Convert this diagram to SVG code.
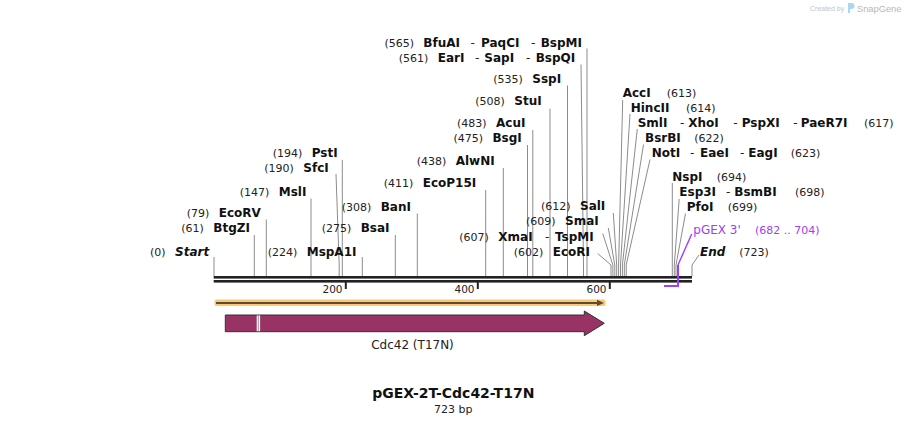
<svg xmlns="http://www.w3.org/2000/svg" width="907" height="426" viewBox="0 0 907 426">
<style>
.num{font-family:"DejaVu Sans",Verdana,sans-serif;font-size:11px;fill:#222}
.nm{font-family:"DejaVu Sans",Verdana,sans-serif;font-size:12px;font-weight:bold;fill:#111}
.hy{font-family:"DejaVu Sans",Verdana,sans-serif;font-size:12px;fill:#222}
.it{font-style:italic}
.ln{fill:none;stroke:#8c8c8c;stroke-width:1}
.tick{font-family:"DejaVu Sans",Verdana,sans-serif;font-size:10.5px;fill:#222}
.pr{fill:#a040f0;font-family:"DejaVu Sans",Verdana,sans-serif}
</style>
<rect width="907" height="426" fill="#fff"/>

<!-- watermark -->
<g id="watermark">
<text x="810" y="11" font-family="Liberation Sans,Arial,sans-serif" font-size="7px" fill="#c4c4c4">Created by</text>
<path d="M848,3 h3.5 a3,3 0 0 1 0,6 h-1.5 v4 h-2 z" fill="#a9d6f0"/>
<text x="857" y="11.5" font-family="Liberation Sans,Arial,sans-serif" font-size="9.3px" fill="#b8b8b8">SnapGene</text>
</g>

<!-- connectors -->
<g id="connectors">
<path class="ln" d="M214,257V276"/>
<path class="ln" d="M254.3,235V276"/>
<path class="ln" d="M266.3,219.5V276"/>
<path class="ln" d="M311,198.5V276"/>
<path class="ln" d="M336,174L339.2,265V276"/>
<path class="ln" d="M342.3,160V276"/>
<path class="ln" d="M362.3,257V276"/>
<path class="ln" d="M395.3,235V276"/>
<path class="ln" d="M417.3,213.5V276"/>
<path class="ln" d="M485.7,190V276"/>
<path class="ln" d="M503.3,168V276"/>
<path class="ln" d="M527.5,145V276"/>
<path class="ln" d="M532.8,130V276"/>
<path class="ln" d="M550,108.5V276"/>
<path class="ln" d="M567.5,85.5V276"/>
<path class="ln" d="M581,64.5L583.5,265V276"/>
<path class="ln" d="M587,48.5V276"/>
<path class="ln" d="M597.7,253.5L611,265V276"/>
<path class="ln" d="M602.7,233.5L612.9,265V276"/>
<path class="ln" d="M608.3,228L614.8,265V276"/>
<path class="ln" d="M613.3,213L616.7,265V276"/>
<path class="ln" d="M622.7,100L618.6,265V276"/>
<path class="ln" d="M630,114L620.5,265V276"/>
<path class="ln" d="M637.3,129L622.4,265V276"/>
<path class="ln" d="M643.5,144.5L624.3,265V276"/>
<path class="ln" d="M650,159.5L626.2,265V276"/>
<path class="ln" d="M672.3,183V276"/>
<path class="ln" d="M679.2,199L674.3,265V276"/>
<path class="ln" d="M685.5,213.5L676,265V276"/>
<path class="ln" d="M699,255L692,265V276"/>
</g>

<!-- backbone -->
<g id="backbone">
<rect x="213.7" y="276" width="478.3" height="2.6" fill="#222"/>
<rect x="213.7" y="280" width="478.3" height="2.6" fill="#222"/>
<rect x="344.8" y="282" width="2" height="7" fill="#222"/>
<rect x="476.8" y="282" width="2" height="7" fill="#222"/>
<rect x="608.8" y="282" width="2" height="7" fill="#222"/>
<text class="tick" x="342.5" y="293" text-anchor="end">200</text>
<text class="tick" x="474.5" y="293" text-anchor="end">400</text>
<text class="tick" x="606.5" y="293" text-anchor="end">600</text>
</g>

<!-- primer -->
<g id="primer-pGEX3">
<path d="M691.7,234L678,265" fill="none" stroke="#a040f0" stroke-width="1.4"/>
<path d="M678,265V286H664" fill="none" stroke="#a040f0" stroke-width="2"/>
<text class="pr" x="693.3" y="234" font-size="12px">pGEX 3'</text>
<text class="pr" x="755" y="234" font-size="11px">(682 .. 704)</text>
</g>

<!-- left-side labels -->
<g id="site-BfuAI"><text class="num" x="414" y="47" text-anchor="end">(565)</text><text class="nm" x="423.3" y="47">BfuAI</text><text class="hy" x="470.5" y="47">-</text><text class="nm" x="481" y="47">PaqCI</text><text class="hy" x="531" y="47">-</text><text class="nm" x="540.7" y="47">BspMI</text></g>
<g id="site-EarI"><text class="num" x="428.3" y="62" text-anchor="end">(561)</text><text class="nm" x="437.7" y="62">EarI</text><text class="hy" x="475" y="62">-</text><text class="nm" x="484.3" y="62">SapI</text><text class="hy" x="526" y="62">-</text><text class="nm" x="535.7" y="62">BspQI</text></g>
<g id="site-SspI"><text class="num" x="522.9" y="83" text-anchor="end">(535)</text><text class="nm" x="532.3" y="83">SspI</text></g>
<g id="site-StuI"><text class="num" x="504.9" y="105" text-anchor="end">(508)</text><text class="nm" x="514.3" y="105">StuI</text></g>
<g id="site-AcuI"><text class="num" x="486.6" y="127" text-anchor="end">(483)</text><text class="nm" x="496" y="127">AcuI</text></g>
<g id="site-BsgI"><text class="num" x="483" y="142" text-anchor="end">(475)</text><text class="nm" x="492.4" y="142">BsgI</text></g>
<g id="site-AlwNI"><text class="num" x="446.3" y="165" text-anchor="end">(438)</text><text class="nm" x="455.7" y="165">AlwNI</text></g>
<g id="site-EcoP15I"><text class="num" x="413.3" y="187" text-anchor="end">(411)</text><text class="nm" x="422.7" y="187">EcoP15I</text></g>
<g id="site-BanI"><text class="num" x="371.3" y="211" text-anchor="end">(308)</text><text class="nm" x="380.7" y="211">BanI</text></g>
<g id="site-BsaI"><text class="num" x="351.3" y="232" text-anchor="end">(275)</text><text class="nm" x="360.7" y="232">BsaI</text></g>
<g id="site-MspA1I"><text class="num" x="297.3" y="255.7" text-anchor="end">(224)</text><text class="nm" x="306.7" y="255.7">MspA1I</text></g>
<g id="site-PstI"><text class="num" x="302.3" y="157.3" text-anchor="end">(194)</text><text class="nm" x="311.7" y="157.3">PstI</text></g>
<g id="site-SfcI"><text class="num" x="293.9" y="172.3" text-anchor="end">(190)</text><text class="nm" x="303.3" y="172.3">SfcI</text></g>
<g id="site-MslI"><text class="num" x="269.3" y="195.5" text-anchor="end">(147)</text><text class="nm" x="278.7" y="195.5">MslI</text></g>
<g id="site-EcoRV"><text class="num" x="209.3" y="216.7" text-anchor="end">(79)</text><text class="nm" x="218.7" y="216.7">EcoRV</text></g>
<g id="site-BtgZI"><text class="num" x="203.9" y="232.3" text-anchor="end">(61)</text><text class="nm" x="213.3" y="232.3">BtgZI</text></g>
<g id="site-Start"><text class="num" x="165.6" y="255.7" text-anchor="end">(0)</text><text class="nm it" x="175" y="255.7">Start</text></g>
<g id="site-SalI"><text class="num" x="570.6" y="210" text-anchor="end">(612)</text><text class="nm" x="580" y="210">SalI</text></g>
<g id="site-SmaI"><text class="num" x="555.6" y="225" text-anchor="end">(609)</text><text class="nm" x="565" y="225">SmaI</text></g>
<g id="site-XmaI"><text class="num" x="488.9" y="240.7" text-anchor="end">(607)</text><text class="nm" x="498.3" y="240.7">XmaI</text><text class="hy" x="545" y="240.7">-</text><text class="nm" x="555" y="240.7">TspMI</text></g>
<g id="site-EcoRI"><text class="num" x="543.3" y="255.7" text-anchor="end">(602)</text><text class="nm" x="552.7" y="255.7">EcoRI</text></g>

<!-- right-side labels -->
<g id="site-AccI"><text class="nm" x="622.7" y="97.3">AccI</text><text class="num" x="666.7" y="97.3">(613)</text></g>
<g id="site-HincII"><text class="nm" x="630.7" y="112.3">HincII</text><text class="num" x="686" y="112.3">(614)</text></g>
<g id="site-SmlI"><text class="nm" x="637.7" y="127.3">SmlI</text><text class="hy" x="680" y="127.3">-</text><text class="nm" x="688.3" y="127.3">XhoI</text><text class="hy" x="733.3" y="127.3">-</text><text class="nm" x="741.7" y="127.3">PspXI</text><text class="hy" x="793.3" y="127.3">-</text><text class="nm" x="800.7" y="127.3">PaeR7I</text><text class="num" x="864" y="127.3">(617)</text></g>
<g id="site-BsrBI"><text class="nm" x="645" y="142.3">BsrBI</text><text class="num" x="694.3" y="142.3">(622)</text></g>
<g id="site-NotI"><text class="nm" x="651.7" y="157.3">NotI</text><text class="hy" x="690" y="157.3">-</text><text class="nm" x="700" y="157.3">EaeI</text><text class="hy" x="740" y="157.3">-</text><text class="nm" x="748.3" y="157.3">EagI</text><text class="num" x="790.7" y="157.3">(623)</text></g>
<g id="site-NspI"><text class="nm" x="672.3" y="180.7">NspI</text><text class="num" x="716.7" y="180.7">(694)</text></g>
<g id="site-Esp3I"><text class="nm" x="679.3" y="196">Esp3I</text><text class="hy" x="726" y="196">-</text><text class="nm" x="734.3" y="196">BsmBI</text><text class="num" x="795" y="196">(698)</text></g>
<g id="site-PfoI"><text class="nm" x="686.7" y="210.7">PfoI</text><text class="num" x="727.7" y="210.7">(699)</text></g>
<g id="site-End"><text class="nm it" x="700" y="255.7">End</text><text class="num" x="739.3" y="255.7">(723)</text></g>

<!-- ORF arrow -->
<g id="orf">
<rect x="214.5" y="299.5" width="391" height="6.5" rx="2" fill="#fbc874"/>
<path d="M216,302.9H598" stroke="#5e4b36" stroke-width="2"/>
<path d="M597,299.8L604,302.9L597,306Z" fill="#5e4b36"/>
</g>

<!-- feature -->
<g id="feature-Cdc42">
<path d="M225.3,315H584.3V311L604.3,323.3L584.3,335.7V331.7H225.3Z" fill="#993366" stroke="#333" stroke-width="1"/>
<rect x="256.7" y="315.5" width="3.4" height="15.7" fill="#fff"/>
<path d="M258.4,315.5V331.2" stroke="#555" stroke-width="1.2" stroke-dasharray="1 1"/>
<text x="412.5" y="349" text-anchor="middle" font-family="DejaVu Sans,Verdana,sans-serif" font-size="12px" fill="#222">Cdc42 (T17N)</text>
</g>

<!-- title -->
<g id="title">
<text x="453.3" y="398.3" text-anchor="middle" font-family="DejaVu Sans,Verdana,sans-serif" font-size="14px" font-weight="bold" fill="#111">pGEX-2T-Cdc42-T17N</text>
<text x="453.3" y="413.3" text-anchor="middle" font-family="DejaVu Sans,Verdana,sans-serif" font-size="11px" fill="#222">723 bp</text>
</g>
</svg>
